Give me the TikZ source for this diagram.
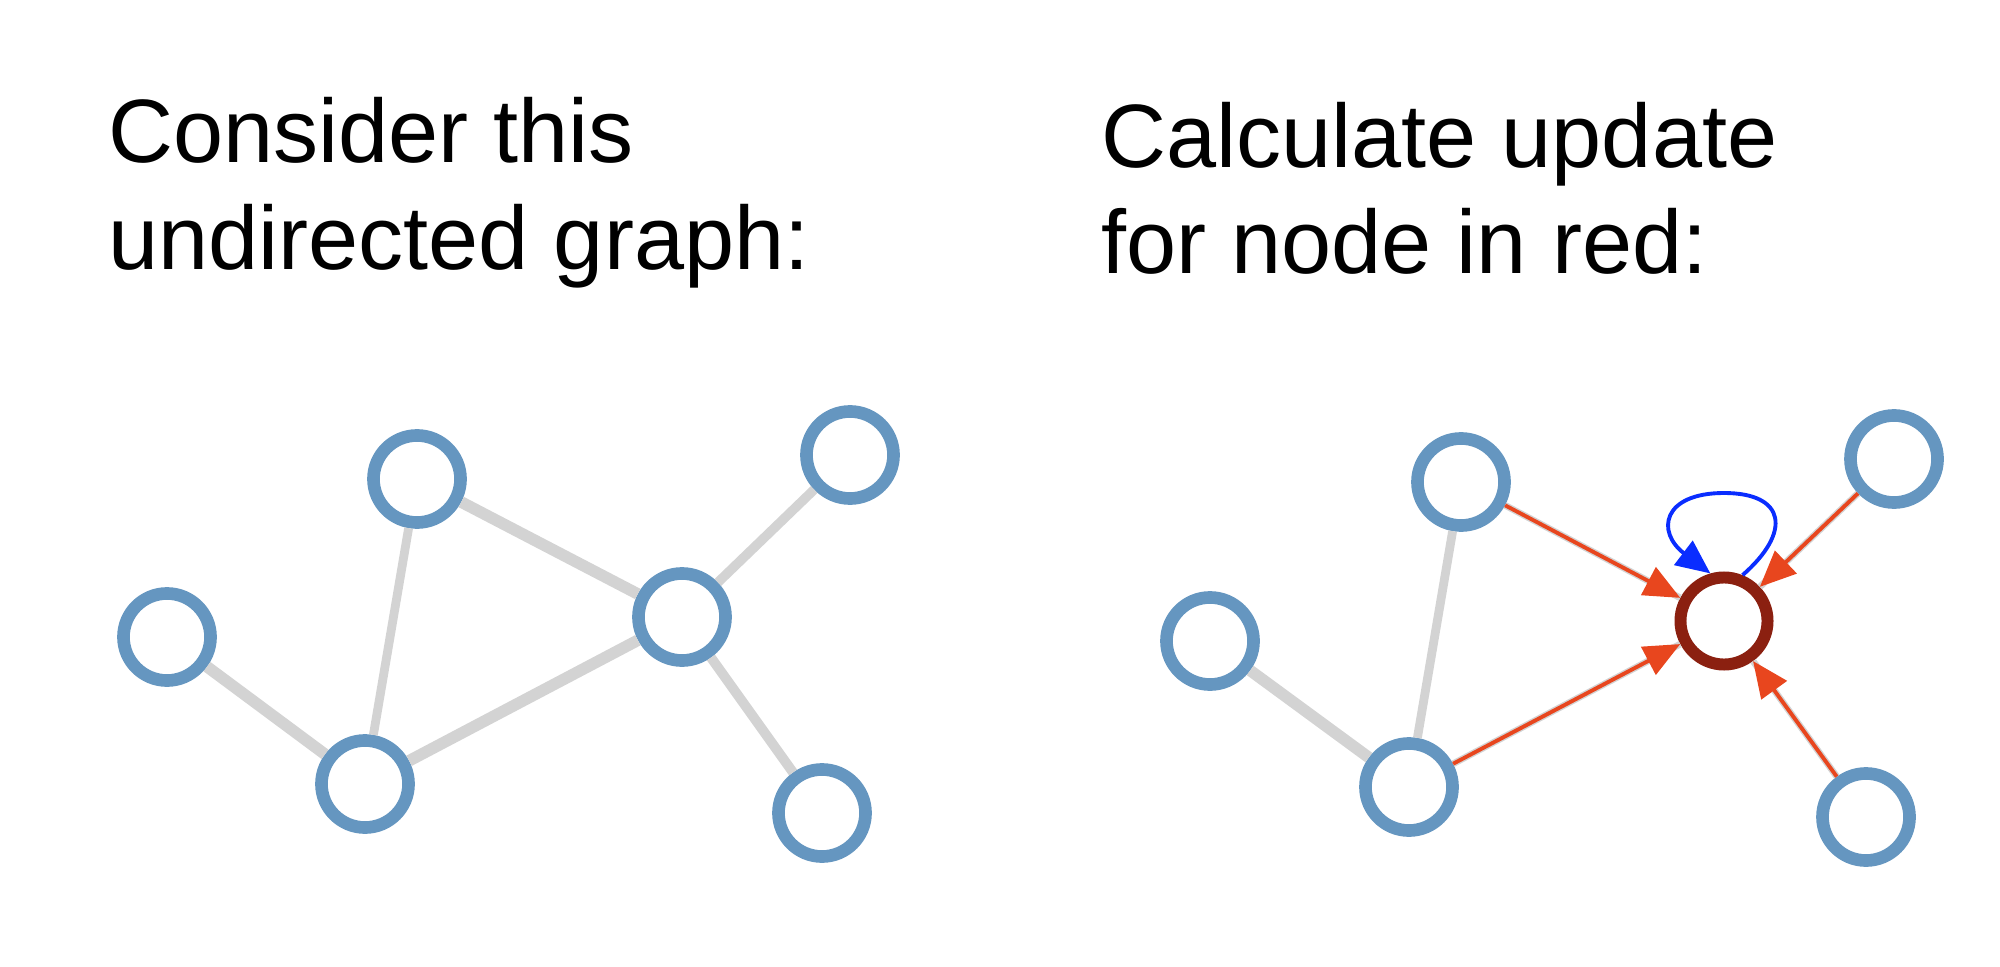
\documentclass[tikz,border=0pt]{standalone}
\usepackage{fontspec}
\setmainfont{Liberation Sans}
\usetikzlibrary{arrows.meta}
\definecolor{nodeblue}{RGB}{101,150,192}
\definecolor{nodered}{RGB}{139,32,16}
\definecolor{arrred}{RGB}{232,70,30}
\definecolor{loopblue}{RGB}{10,45,255}
\definecolor{edgegray}{RGB}{211,211,211}
\tikzset{
  gnode/.style={circle, draw=nodeblue, line width=3.6pt, fill=white, minimum size=0.87cm, inner sep=0pt},
  rnode/.style={circle, draw=nodered, line width=3.4pt, fill=white, minimum size=0.87cm, inner sep=0pt},
  gedge/.style={draw=edgegray, line width=#1},
  gedge/.default=2pt,
  redarrow/.style={draw=arrred, line width=1.1pt, -{Triangle[length=0.36cm, width=0.31cm]}},
  looparrow/.style={draw=loopblue, line width=1.1pt, -{Triangle[length=0.34cm, width=0.30cm]}},
  heading/.style={anchor=base west, inner sep=0pt, font=\fontsize{25.6}{30}\selectfont}
}
\begin{document}
\begin{tikzpicture}[x=0.01cm, y=-0.01cm]
\useasboundingbox (0,0) rectangle (2000,967);
% headings
\node[heading] (h1a) at (108,163) {Consider this};
\node[heading] (h1b) at (108,270) {undirected graph:};
\node[heading] (h2a) at (1101,168) {Calculate update};
\node[heading] (h2b) at (1101,274) {for node in red:};
% left graph
\node[gnode] (a) at (167,637) {};
\node[gnode] (b) at (417,479) {};
\node[gnode] (c) at (682,617) {};
\node[gnode] (d) at (850,455) {};
\node[gnode] (e) at (365,784) {};
\node[gnode] (f) at (822,813) {};
\path[gedge=3.3pt] (a) -- (e);
\path[gedge=2.5pt] (b) -- (e);
\path[gedge=3.3pt] (b) -- (c);
\path[gedge=3.3pt] (c) -- (e);
\path[gedge=2.7pt] (c) -- (d);
\path[gedge=2.8pt] (c) -- (f);
% right graph
\node[gnode] (a2) at (1210,641) {};
\node[gnode] (b2) at (1461,482) {};
\node[rnode] (r) at (1724,621) {};
\node[gnode] (d2) at (1894,459) {};
\node[gnode] (e2) at (1409,787) {};
\node[gnode] (f2) at (1866,817) {};
\coordinate (looptop) at (1724,493);
\path[gedge=3.3pt] (a2) -- (e2);
\path[gedge=2.5pt] (b2) -- (e2);
\path[gedge=1.9pt] (b2) -- (r);
\path[gedge=1.9pt] (e2) -- (r);
\path[gedge=1.9pt] (d2) -- (r);
\path[gedge=1.9pt] (f2) -- (r);
\path[redarrow] (b2) -- (r);
\path[redarrow] (e2) -- (r);
\path[redarrow] (d2) -- (r);
\path[redarrow] (f2) -- (r);
\path[looparrow] (r.68) .. controls (1792,532) and (1786,493) .. (looptop)
  .. controls (1662,493) and (1656,532) .. (r.106);
\end{tikzpicture}
\end{document}
